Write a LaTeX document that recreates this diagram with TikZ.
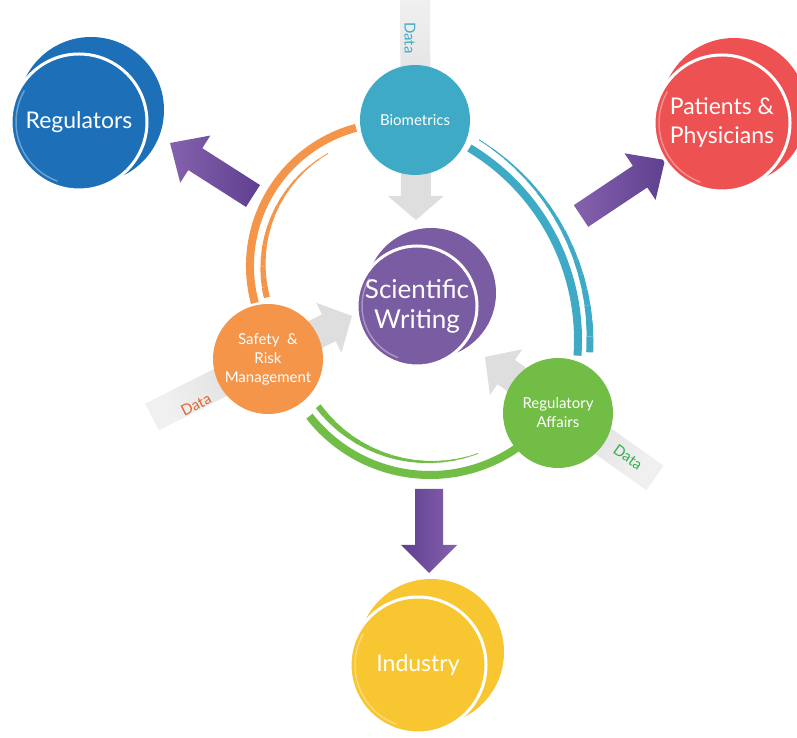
\documentclass[tikz,border=0pt]{standalone}
\usepackage{fontspec}
\setmainfont{Lato}
\usetikzlibrary{calc}
\definecolor{regblue}{HTML}{1D6FB8}
\definecolor{patred}{HTML}{EE5152}
\definecolor{indyellow}{HTML}{F8C630}
\definecolor{sciviolet}{HTML}{7A5CA2}
\definecolor{bioteal}{HTML}{3EAAC6}
\definecolor{safeorange}{HTML}{F4954A}
\definecolor{raffgreen}{HTML}{72BD45}
\definecolor{bandgray}{HTML}{DEDEDF}
\definecolor{arrowdark}{HTML}{5F3F8F}
\definecolor{arrowlight}{HTML}{8562AD}
\definecolor{dataorange}{HTML}{E4662C}
\definecolor{datagreen}{HTML}{2FB24A}

% block arrow: options, tail, tip, half shaft, half head, head length
\newcommand{\blockarrow}[6]{%
  \shade[#1] ($(#2)!#4!90:(#3)$)
    -- ($($(#3)!#6!(#2)$)!#4!90:(#3)$)
    -- ($($(#3)!#6!(#2)$)!#5!90:(#3)$)
    -- (#3)
    -- ($($(#3)!#6!(#2)$)!#5!-90:(#3)$)
    -- ($($(#3)!#6!(#2)$)!#4!-90:(#3)$)
    -- ($(#2)!#4!-90:(#3)$) -- cycle;}

% tapered strand: colour, centre, radius, wide end, narrow end, width
\newcommand{\strand}[6]{%
  \foreach \k in {0,...,15}{%
    \pgfmathsetmacro{\segA}{(#4)+((#5)-(#4))*\k/16}%
    \pgfmathsetmacro{\segB}{(#4)+((#5)-(#4))*(\k+1)/16}%
    \pgfmathsetmacro{\segW}{(#6)*(1-\k/16)+0.5}%
    \draw[#1, line width=\segW pt] ($(#2)+(\segA:#3)$)
      arc[start angle=\segA, end angle=\segB, radius=#3];
  }}

\begin{document}
\begin{tikzpicture}[
    x=1pt, y=1pt,
    bigdisc/.style={circle, minimum size=136pt, inner sep=0pt, draw=white, line width=3pt,
                    text=white, align=center, font=\fontsize{23}{29}\selectfont},
    smalldisc/.style={circle, minimum size=110pt, inner sep=0pt, text=white,
                      align=center, font=\fontsize{15}{19}\selectfont},
    databand/.style={top color=bandgray!45, bottom color=bandgray, middle color=bandgray},
    flow/.style={left color=arrowlight, right color=arrowdark},
    datatext/.style={font=\fontsize{15}{15}\selectfont},
    sheen/.style={white, opacity=0.35, line width=1.5pt},
]
\useasboundingbox (0,0) rectangle (797,738);

% Data feeds
\coordinate (biotail) at (415,738);
\coordinate (biotip) at (416,518);
\coordinate (safetail) at (152,321);
\coordinate (safetip) at (352,422);
\coordinate (rafftail) at (655,260);
\coordinate (rafftip) at (485,381);
\blockarrow{databand, shading angle=0}{biotail}{biotip}{15pt}{28pt}{24pt}
\blockarrow{databand, shading angle=117}{safetail}{safetip}{15pt}{28pt}{26pt}
\blockarrow{databand, shading angle=235}{rafftail}{rafftip}{15pt}{28pt}{26pt}

% Ring strands
\coordinate (orangec) at (393,472);
\coordinate (bluec) at (354,398);
\coordinate (greenc) at (430,416);
\draw[safeorange, line width=8pt] ($(orangec)+(105:143pt)$) arc[start angle=105, end angle=195, radius=143pt];
\strand{safeorange}{orangec}{130pt}{194}{120}{5.5}
\draw[bioteal, line width=8pt] ($(bluec)+(59:224pt)$) arc[start angle=59, end angle=-4, radius=224pt];
\strand{bioteal}{bluec}{236pt}{-3}{58}{6.5}
\draw[raffgreen, line width=8pt] ($(greenc)+(218:153pt)$) arc[start angle=218, end angle=305, radius=153pt];
\strand{raffgreen}{greenc}{140pt}{217}{290}{5.5}

% Outputs
\coordinate (regtail) at (253,542);
\coordinate (regtip) at (170,595);
\coordinate (pattail) at (581,522);
\coordinate (pattip) at (665,578);
\coordinate (indtail) at (429,249);
\coordinate (indtip) at (429,165);
\blockarrow{flow}{regtail}{regtip}{13pt}{28pt}{30pt}
\blockarrow{flow}{pattail}{pattip}{13pt}{28pt}{30pt}
\blockarrow{left color=arrowdark, right color=arrowlight}{indtail}{indtip}{14pt}{28pt}{28pt}

% Audiences
\fill[regblue] (91,628) circle[radius=73pt];
\node[bigdisc, fill=regblue] (regulators) at (79,616) {Regulators};
\fill[patred] (734,627) circle[radius=73pt];
\node[bigdisc, fill=patred] (patients) at (722,615) {Patients \&\\Physicians};
\fill[indyellow] (431,86) circle[radius=73pt];
\node[bigdisc, fill=indyellow] (industry) at (418,73) {Industry};
\draw[sheen] ($(regulators)+(150:63pt)$) arc[start angle=150, end angle=250, radius=63pt];
\draw[sheen] ($(patients)+(150:63pt)$) arc[start angle=150, end angle=250, radius=63pt];
\draw[sheen] ($(industry)+(150:63pt)$) arc[start angle=150, end angle=250, radius=63pt];

% Centre
\fill[sciviolet] (431,445) circle[radius=65pt];
\node[bigdisc, fill=sciviolet, minimum size=120pt, font=\fontsize{26}{30}\selectfont]
    (writing) at (417,432) {Scientific\\Writing};
\draw[sheen] ($(writing)+(150:55pt)$) arc[start angle=150, end angle=250, radius=55pt];

% Contributors
\node[smalldisc, fill=bioteal] (biometrics) at (415,618) {Biometrics};
\node[smalldisc, fill=safeorange] (safety) at (268,379) {Safety\ \ \&\\Risk\\Management};
\node[smalldisc, fill=raffgreen] (affairs) at (558,325) {Regulatory\\Affairs};

% Data labels
\node[datatext, text=bioteal, rotate=-90] (biodata) at (410,700) {Data};
\node[datatext, text=dataorange, rotate=27] (safedata) at (196,333) {Data};
\node[datatext, text=datagreen, rotate=-35] (raffdata) at (628,281) {Data};

\end{tikzpicture}
\end{document}
